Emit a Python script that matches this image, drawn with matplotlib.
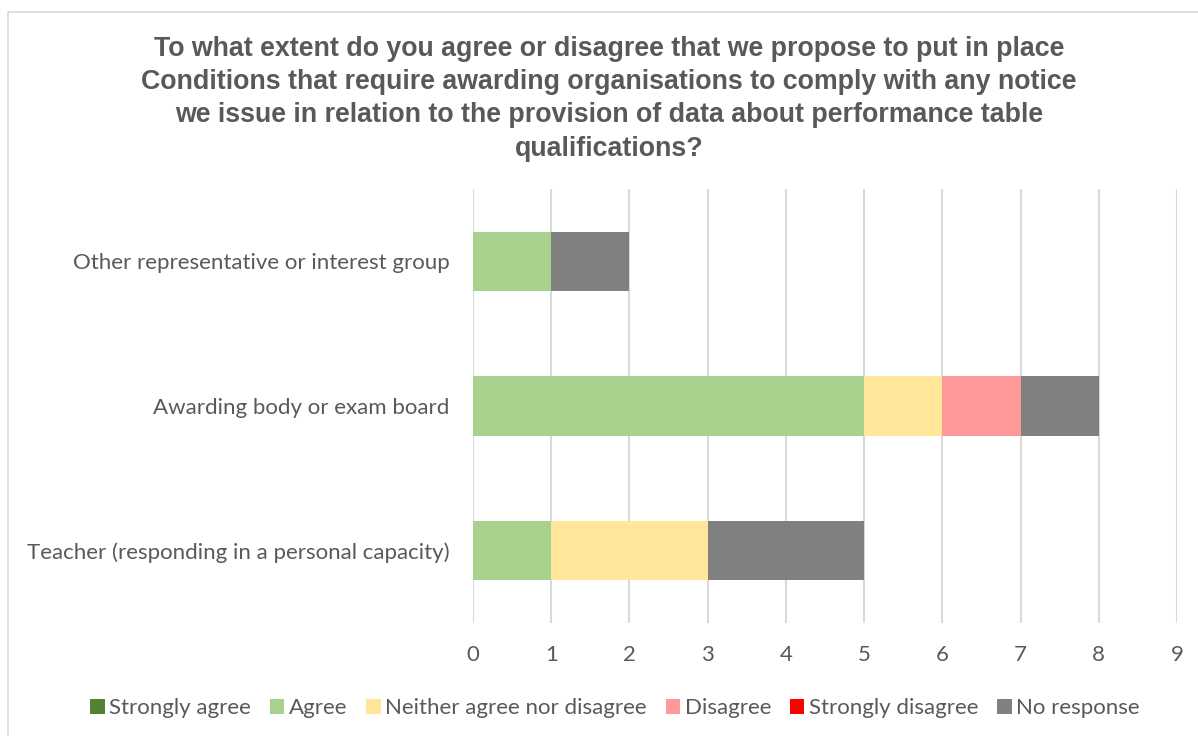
import matplotlib.pyplot as plt
from matplotlib.patches import Rectangle

# survey responses by respondent type
groups = ["Teacher (responding in a personal capacity)",
          "Awarding body or exam board",
          "Other representative or interest group"]
responses = ["Strongly agree", "Agree", "Neither agree nor disagree",
             "Disagree", "Strongly disagree", "No response"]
strongly_agree = [0, 0, 0]
agree = [1, 5, 1]
neither = [2, 1, 0]
disagree = [0, 1, 0]
strongly_disagree = [0, 0, 0]
no_response = [2, 1, 1]

colors = ["#548235", "#A9D18E", "#FFE699", "#FF9999", "#FF0000", "#808080"]
series = [strongly_agree, agree, neither, disagree, strongly_disagree, no_response]

title = ("To what extent do you agree or disagree that we propose to put in place\n"
         "Conditions that require awarding organisations to comply with any notice\n"
         "we issue in relation to the provision of data about performance table\n"
         "qualifications?")

txt = "#595959"
fig = plt.figure(figsize=(11.98, 7.36), dpi=100)
fig.patches.append(Rectangle((8 / 1198, -0.1), 1.2, (736 - 12) / 736 + 0.1,
                             transform=fig.transFigure, fill=False,
                             edgecolor="#D9D9D9", linewidth=1.2))
ax = fig.add_axes([473 / 1198, 113 / 736, 704 / 1198, 434 / 736])

left = [0, 0, 0]
for name, vals, c in zip(responses, series, colors):
    ax.barh(range(len(groups)), vals, left=left, height=0.41, color=c,
            label=name, zorder=3)
    left = [a + b for a, b in zip(left, vals)]

ax.set_xlim(0, 9)
ax.set_ylim(-0.5, 2.5)
ax.set_xticks(range(10))
ax.set_yticks(range(len(groups)))
ax.set_yticklabels(groups)
ax.grid(axis="x", color="#D9D9D9", linewidth=1.5, zorder=0)
for s in ax.spines.values():
    s.set_visible(False)
ax.tick_params(length=0, labelsize=16, labelcolor=txt)
ax.tick_params(axis="x", pad=16)
ax.tick_params(axis="y", pad=17)
for lbl in ax.get_xticklabels() + ax.get_yticklabels():
    lbl.set_family("Lato")

fig.text(609 / 1198, 1 - 36 / 736, title, ha="center", va="top",
         fontsize=19.3, fontweight="bold", color=txt, family="Liberation Sans",
         linespacing=1.36)

leg = fig.legend(loc="center", bbox_to_anchor=(615 / 1198, 1 - 708 / 736),
                 ncol=6, frameon=False, handlelength=0.65, handleheight=0.65,
                 handletextpad=0.2, columnspacing=0.85,
                 prop={"family": "Lato", "size": 16})
for t in leg.get_texts():
    t.set_color(txt)

fig.savefig("out.png", dpi=100)
